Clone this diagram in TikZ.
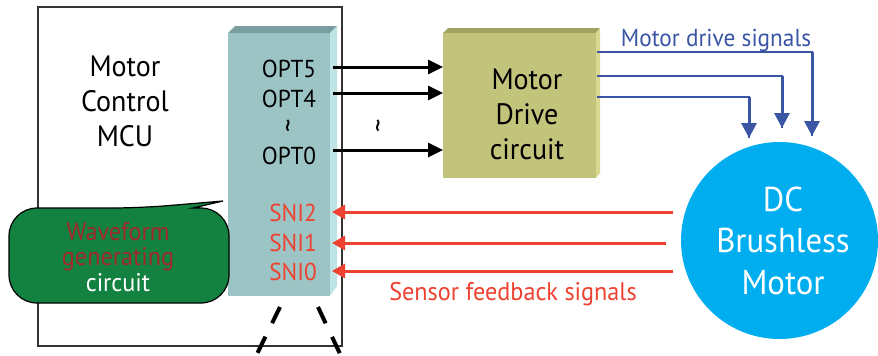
\documentclass[tikz,border=0pt]{standalone}
\usepackage{fontspec}
\setmainfont{PT Sans}[FakeStretch=0.95]
\usetikzlibrary{arrows.meta}
\definecolor{redline}{HTML}{EE4130}
\definecolor{wavered}{HTML}{A3282C}
\definecolor{bubblegreen}{HTML}{138140}
\definecolor{blueline}{HTML}{3A55A4}
\definecolor{motorcyan}{HTML}{00AEEF}
\definecolor{tealfront}{HTML}{9DC4C5}
\definecolor{tealtop}{HTML}{7A9E9F}
\definecolor{tealside}{HTML}{BEE4E5}
\definecolor{olivefront}{HTML}{C3C47B}
\definecolor{olivetop}{HTML}{A2A261}
\definecolor{oliveside}{HTML}{D8D98E}
\newcommand{\fsz}[2]{\fontsize{#1}{#2}\selectfont}
\tikzset{
  blackarrow/.style={line width=3pt, -{Triangle[length=15pt,width=14pt]}},
  redarrow/.style={redline, line width=3pt, -{Triangle[length=13pt,width=14pt]}},
  blueh/.style={blueline, line width=1.8pt},
  bluev/.style={blueline, line width=3pt, -{Triangle[length=15pt,width=15pt]}},
  pinlabel/.style={anchor=base, font=\fsz{24.5}{28}},
  biglabel/.style={align=center, font=\fsz{29.5}{35}},
  dashline/.style={line width=4pt, dash pattern=on 18pt off 15pt},
  tildemark/.style={font=\fsz{28}{28}}
}
\begin{document}
\begin{tikzpicture}[x=1pt,y=-1pt]
\useasboundingbox (0,0) rectangle (878,356);
\fill[white] (0,0) rectangle (878,356);

% MCU outline
\node[draw=black!80, line width=1.3pt, minimum width=304pt, minimum height=339pt, inner sep=0pt] (mcu) at (190,176.5) {};
\node[biglabel] (mculbl) at (125,101) {Motor\\Control\\MCU};

% pin bar (3D)
\fill[tealtop] (228,33) -- (235,26) -- (337,26) -- (330,33) -- cycle;
\fill[tealside] (330,33) -- (337,26) -- (337,286) -- (330,296) -- cycle;
\node[fill=tealfront, minimum width=102pt, minimum height=263pt, inner sep=0pt, anchor=north west] (bar) at (228,33) {};

\node[pinlabel] (opt5) at (289,77) {OPT5};
\node[pinlabel] (opt4) at (289,107) {OPT4};
\node[tildemark] (tilde1) at (292,126) {\rotatebox{90}{\~{}}};
\node[pinlabel] (opt0) at (289,164) {OPT0};
\node[pinlabel, text=redline] (sni2) at (293,221) {SNI2};
\node[pinlabel, text=redline] (sni1) at (293,251) {SNI1};
\node[pinlabel, text=redline] (sni0) at (293,280) {SNI0};

% waveform bubble
\draw[fill=bubblegreen, line width=1.2pt, rounded corners=28pt]
  (193,208) -- (229,208) -- (229,303) -- (9,303) -- (9,208) -- (140,208)
  [sharp corners] -- (223,201) -- (193,208) -- cycle;
\node[align=center, font=\fsz{25.5}{25.5}, text=white] (wave) at (118,257)
  {\textcolor{wavered}{Waveform}\\\textcolor{wavered}{generating}\\circuit};

% motor drive box (3D)
\fill[olivetop] (443,33) -- (448,28) -- (600,28) -- (596,33) -- cycle;
\fill[oliveside] (596,33) -- (600,28) -- (600,173) -- (596,178) -- cycle;
\node[fill=olivefront, minimum width=153pt, minimum height=145pt, inner sep=0pt, anchor=north west] (drive) at (443,33) {};
\node[biglabel] (drivelbl) at (527,114) {Motor\\Drive\\circuit};

% motor
\node[circle, fill=motorcyan, minimum size=197pt, inner sep=0pt] (motor) at (779.5,240.5) {};
\node[align=center, font=\fsz{34.5}{41.5}, text=white] (motorlbl) at (783,240.5) {DC\\Brushless\\Motor};

% OPT arrows
\coordinate (o5a) at (333,67);
\coordinate (o4a) at (333,93);
\coordinate (o0a) at (333,150);
\draw[blackarrow] (o5a) -- (drive.west |- o5a);
\draw[blackarrow] (o4a) -- (drive.west |- o4a);
\draw[blackarrow] (o0a) -- (drive.west |- o0a);
\node[tildemark] (tilde2) at (382,126) {\rotatebox{90}{\~{}}};

% motor drive signals
\coordinate (d1) at (597,52);
\coordinate (d2) at (597,76);
\coordinate (d3) at (597,97);
\coordinate (m1) at (812,136);
\coordinate (m2) at (782,128);
\coordinate (m3) at (749,138);
\draw[blueh] (d1) -| (m1);
\draw[blueh] (d2) -| (m2);
\draw[blueh] (d3) -| (m3);
\draw[bluev] (m1 |- d1) -- (m1);
\draw[bluev] (m2 |- d2) -- (m2);
\draw[bluev] (m3 |- d3) -- (m3);
\node[anchor=base, font=\fsz{24.5}{28}, text=blueline] (mdsig) at (716,46) {Motor drive signals};

% sensor feedback
\coordinate (s2) at (673,212);
\coordinate (s1) at (666,243);
\coordinate (s0) at (673,271);
\coordinate (t2) at (332,212);
\coordinate (t1) at (332,243);
\coordinate (t0) at (332,271);
\draw[redarrow] (s2) -- (t2);
\draw[redarrow] (s1) -- (t1);
\draw[redarrow] (s0) -- (t0);
\node[anchor=base, font=\fsz{25.5}{28}, text=redline] (sfsig) at (513,300) {Sensor feedback signals};

% dashed lines
\coordinate (da1) at (280,307);
\coordinate (db1) at (255,358);
\coordinate (da2) at (318,307);
\coordinate (db2) at (342,358);
\draw[dashline] (da1) -- (db1);
\draw[dashline] (da2) -- (db2);
\end{tikzpicture}
\end{document}
